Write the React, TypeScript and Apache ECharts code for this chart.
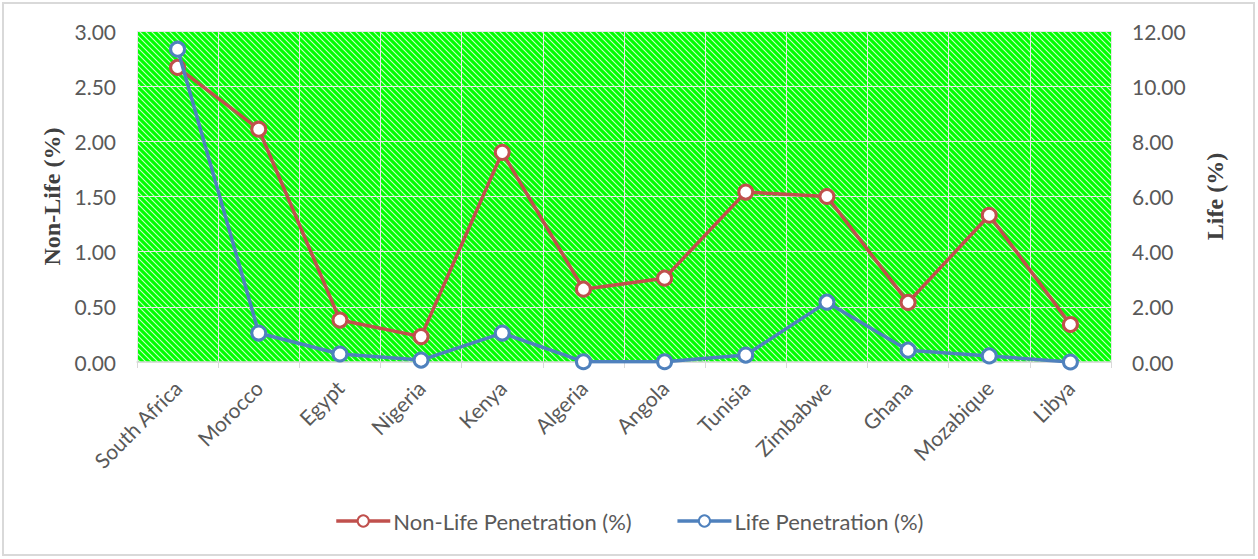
import React, { useEffect, useRef } from "react";
import * as echarts from "echarts";

const countries = ["South Africa", "Morocco", "Egypt", "Nigeria", "Kenya", "Algeria", "Angola", "Tunisia", "Zimbabwe", "Ghana", "Mozabique", "Libya"];
const nonLife = [2.67, 2.11, 0.38, 0.23, 1.90, 0.66, 0.76, 1.54, 1.50, 0.54, 1.33, 0.34];
const life = [11.34, 1.05, 0.29, 0.07, 1.05, 0.01, 0.01, 0.25, 2.17, 0.43, 0.22, 0.0];

const nonLifeName = "Non-Life Penetration (%)";
const lifeName = "Life Penetration (%)";

function makePattern() {
  const n = 6;
  const c = document.createElement("canvas");
  c.width = n;
  c.height = n;
  const ctx = c.getContext("2d")!;
  ctx.fillStyle = "#00FF00";
  ctx.fillRect(0, 0, n, n);
  ctx.strokeStyle = "rgba(255,255,255,0.8)";
  ctx.lineWidth = 1.1;
  for (const off of [-n, 0, n]) {
    ctx.beginPath();
    ctx.moveTo(off - 1, -1);
    ctx.lineTo(off + n + 1, n + 1);
    ctx.stroke();
  }
  return c;
}

export default function App() {
  const ref = useRef<HTMLDivElement>(null);
  useEffect(() => {
    document.body.style.margin = "0";
    const chart = echarts.init(ref.current!, undefined, { renderer: "svg" });
    const labelFont = { color: "#595959", fontSize: 21, fontFamily: "Lato" };
    const nameFont = { fontFamily: "Liberation Serif", fontWeight: "bold", fontSize: 24, color: "#404040" };
    chart.setOption({
      animation: false,
      backgroundColor: "#ffffff",
      grid: {
        left: 137,
        right: 147,
        top: 31,
        bottom: 197,
        show: true,
        backgroundColor: { image: makePattern(), repeat: "repeat" },
        borderWidth: 0,
      },
      legend: {
        left: "center",
        top: 505,
        itemWidth: 54,
        itemHeight: 14,
        itemGap: 44,
        lineStyle: { width: 3.5 },
        textStyle: { ...labelFont, fontSize: 22, padding: [0, 0, 0, -2] },
        data: [nonLifeName, lifeName],
      },
      xAxis: {
        type: "category",
        data: countries,
        boundaryGap: true,
        axisLine: { show: true, lineStyle: { color: "#D9D9D9", width: 1.5 } },
        axisTick: { show: true, alignWithLabel: false, length: 6, lineStyle: { color: "#D9D9D9" } },
        splitLine: { show: true, lineStyle: { color: "#E6E6E6", width: 1 } },
        axisLabel: { ...labelFont, rotate: 45, margin: 22, interval: 0 },
      },
      yAxis: [
        {
          type: "value",
          min: 0,
          max: 3,
          interval: 0.5,
          name: "Non-Life (%)",
          nameLocation: "middle",
          nameGap: 70,
          nameTextStyle: nameFont,
          axisLine: { show: false },
          axisTick: { show: false },
          splitLine: { show: true, lineStyle: { color: "#E6E6E6", width: 1 } },
          axisLabel: { ...labelFont, margin: 21, formatter: (v: number) => v.toFixed(2) },
        },
        {
          type: "value",
          min: 0,
          max: 12,
          interval: 2,
          name: "Life (%)",
          nameLocation: "middle",
          nameGap: 92,
          nameRotate: 90,
          nameTextStyle: nameFont,
          axisLine: { show: false },
          axisTick: { show: false },
          splitLine: { show: false },
          axisLabel: { ...labelFont, margin: 21, formatter: (v: number) => v.toFixed(2) },
        },
      ],
      series: [
        {
          name: nonLifeName,
          type: "line",
          yAxisIndex: 0,
          data: nonLife,
          symbol: "circle",
          symbolSize: 14,
          lineStyle: { color: "#C0504D", width: 3.5 },
          itemStyle: { color: "#ffffff", borderColor: "#C0504D", borderWidth: 3 },
          z: 3,
        },
        {
          name: lifeName,
          type: "line",
          yAxisIndex: 1,
          data: life,
          symbol: "circle",
          symbolSize: 14,
          lineStyle: { color: "#4F81BD", width: 3.5 },
          itemStyle: { color: "#ffffff", borderColor: "#4F81BD", borderWidth: 3 },
          z: 4,
        },
      ],
    });
    return () => chart.dispose();
  }, []);
  return (
    <div style={{ position: "fixed", left: 0, top: 0, width: 1258, height: 559 }}>
      <div ref={ref} style={{ width: 1258, height: 559 }} />
      <div
        style={{
          position: "absolute",
          left: 2,
          top: 2,
          width: 1253,
          height: 554,
          border: "2px solid #D9D9D9",
          boxSizing: "border-box",
          pointerEvents: "none",
        }}
      />
    </div>
  );
}
